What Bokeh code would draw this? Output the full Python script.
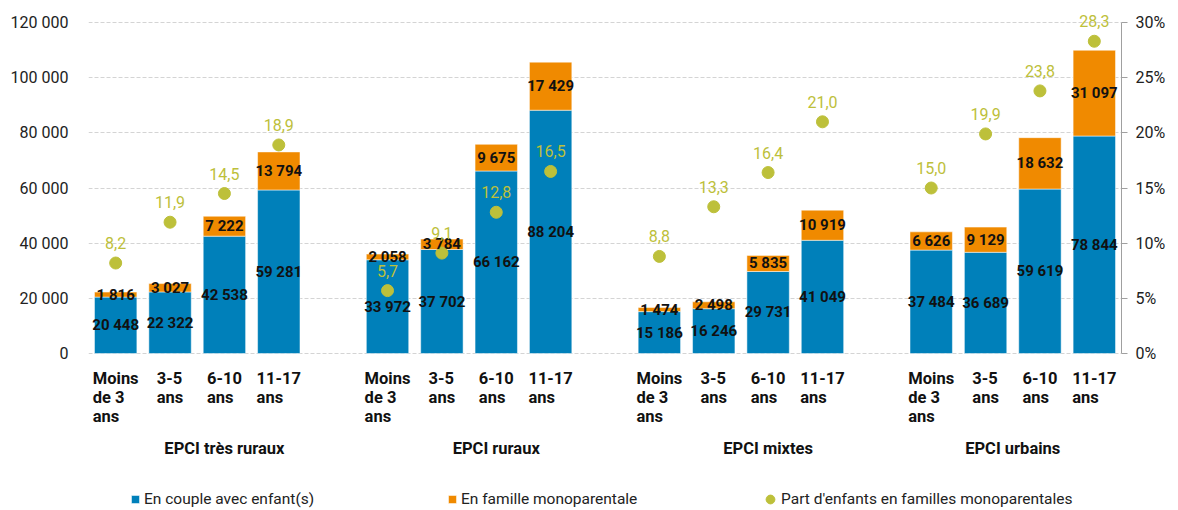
from bokeh.plotting import figure
from bokeh.models import (ColumnDataSource, FactorRange, Range1d, LinearAxis, FixedTicker,
                          LabelSet, Legend, LegendItem)
from bokeh.core.properties import value
from bokeh.embed import file_html
from bokeh.resources import INLINE

groups = ["EPCI très ruraux", "EPCI ruraux", "EPCI mixtes", "EPCI urbains"]
ages = ["Moins\nde 3\nans", "3-5\nans", "6-10\nans", "11-17\nans"]

couple = [20448, 22322, 42538, 59281,
          33972, 37702, 66162, 88204,
          15186, 16246, 29731, 41049,
          37484, 36689, 59619, 78844]
mono = [1816, 3027, 7222, 13794,
        2058, 3784, 9675, 17429,
        1474, 2498, 5835, 10919,
        6626, 9129, 18632, 31097]
part = [8.2, 11.9, 14.5, 18.9,
        5.7, 9.1, 12.8, 16.5,
        8.8, 13.3, 16.4, 21.0,
        15.0, 19.9, 23.8, 28.3]

left_ticks = [0, 20000, 40000, 60000, 80000, 100000, 120000]
left_labels = ["0", "20 000", "40 000", "60 000", "80 000", "100 000", "120 000"]
right_ticks = [0, 5, 10, 15, 20, 25, 30]
right_labels = ["0%", "5%", "10%", "15%", "20%", "25%", "30%"]

series_names = ["En couple avec enfant(s)", "En famille monoparentale",
                "Part d'enfants en familles monoparentales"]

BLUE = "#0080BA"
ORANGE = "#F08A00"
OLIVE = "#BDC03A"
FONT = "Roboto"

# layout (pixels)
W, H = 1178, 510
LEFT, RIGHT = 88, 57
TOP_Y = 22                        # pixel row of the top tick (120 000 / 30%)
ZERO_Y = 353                      # pixel row of the 0 line
span = ZERO_Y - TOP_Y
frac_below = (H - ZERO_Y) / span  # extra room below 0 for labels/legend
frac_above = TOP_Y / span         # extra room above the top tick for value labels
YMAX, PMAX = 120000, 30

# bar factors; each group except the last ends with an empty slot (as in the source chart)
bar_factors = [(g, a) for g in groups for a in ages]
all_factors = []
for i, g in enumerate(groups):
    all_factors += [(g, a) for a in ages]
    if i < len(groups) - 1:
        all_factors.append((g, " "))

def fmt(v):
    return f"{v:,}".replace(",", " ")

src = ColumnDataSource(dict(
    x=bar_factors,
    couple=couple,
    mono=mono,
    total=[c + m for c, m in zip(couple, mono)],
    couple_mid=[c / 2 for c in couple],
    mono_mid=[c + m / 2 for c, m in zip(couple, mono)],
    couple_lbl=[fmt(v) for v in couple],
    mono_lbl=[fmt(v) for v in mono],
    part=part,
    part_lbl=[f"{v:.1f}".replace(".", ",") for v in part],
    age_lbl=[a for g in groups for a in ages],
    zero=[0] * len(bar_factors),
))

xr = FactorRange(*all_factors, group_padding=0.0, factor_padding=0.0, range_padding=0.0)

p = figure(x_range=xr,
           y_range=Range1d(-YMAX * frac_below, YMAX * (1 + frac_above)),
           width=W, height=H,
           output_backend="svg", toolbar_location=None, x_axis_location=None,
           min_border_left=LEFT, min_border_right=RIGHT, min_border_top=0, min_border_bottom=0)
p.extra_y_ranges = {"pct": Range1d(-PMAX * frac_below, PMAX * (1 + frac_above))}
p.outline_line_color = None
p.background_fill_color = "white"
p.border_fill_color = "white"

# grid
p.xgrid.grid_line_color = None
p.ygrid.ticker = FixedTicker(ticks=left_ticks)
p.ygrid.grid_line_color = "#d4d4d4"
p.ygrid.grid_line_dash = "4 2"
p.ygrid.grid_line_width = 1

# left axis
ya = p.yaxis[0]
ya.ticker = FixedTicker(ticks=left_ticks)
ya.major_label_overrides = {t: l for t, l in zip(left_ticks, left_labels)}
ya.axis_line_color = None
ya.major_tick_line_color = None
ya.minor_tick_line_color = None
ya.major_label_text_font = FONT
ya.major_label_text_font_size = "16px"
ya.major_label_text_color = "#222222"
ya.major_label_standoff = 14

# right axis
ra = LinearAxis(y_range_name="pct", ticker=FixedTicker(ticks=right_ticks), bounds=(0, PMAX))
ra.major_label_overrides = {t: l for t, l in zip(right_ticks, right_labels)}
ra.axis_line_color = "#a0a0a0"
ra.major_tick_line_color = "#a0a0a0"
ra.major_tick_out = 6
ra.major_tick_in = 0
ra.minor_tick_line_color = None
ra.major_label_text_font = FONT
ra.major_label_text_font_size = "16px"
ra.major_label_text_color = "#222222"
ra.major_label_standoff = 8
p.add_layout(ra, "right")

# bars
r_couple = p.vbar(x="x", bottom=0, top="couple", width=0.78, source=src,
                  fill_color=BLUE, line_color="white", line_width=0.5)
r_mono = p.vbar(x="x", bottom="couple", top="total", width=0.78, source=src,
                fill_color=ORANGE, line_color="white", line_width=0.5)
r_part = p.scatter(x="x", y="part", y_range_name="pct", source=src, size=12,
                   marker="circle", fill_color=OLIVE, line_color=OLIVE)

# value labels
for ycol, tcol in (("couple_mid", "couple_lbl"), ("mono_mid", "mono_lbl")):
    p.add_layout(LabelSet(x="x", y=ycol, text=tcol, source=src,
                          text_align="center", text_baseline="middle",
                          text_font=value(FONT), text_font_size="15px",
                          text_font_style="bold", text_color="#111111"))
p.add_layout(LabelSet(x="x", y="part", y_range_name="pct", text="part_lbl", source=src,
                      y_offset=20, text_align="center", text_baseline="middle",
                      text_font=value(FONT), text_font_size="16px", text_color=OLIVE))

# category labels below the 0 line
p.add_layout(LabelSet(x="x", y="zero", text="age_lbl", source=src,
                      y_offset=-15, text_align="center", text_baseline="top",
                      text_font=value(FONT), text_font_size="16.5px", text_font_style="bold",
                      text_line_height=1.0, text_color="#111111"))
gsrc = ColumnDataSource(dict(x=groups, y=[0] * len(groups), t=groups))
p.add_layout(LabelSet(x="x", y="y", text="t", source=gsrc,
                      y_offset=-95, text_align="center", text_baseline="middle",
                      text_font=value(FONT), text_font_size="16.5px", text_font_style="bold",
                      text_color="#111111"))

# legend: one entry per Legend so each can be placed where the source has it
legend_specs = [(r_couple, 42, 2, 10), (r_mono, 359, 2, 10), (r_part, 671, 0, 22)]
for name, (rend, lx, ly, gsz) in zip(series_names, legend_specs):
    lg = Legend(items=[LegendItem(label=name, renderers=[rend])],
                location=(lx, ly), padding=0, margin=0, spacing=0,
                glyph_width=gsz, glyph_height=gsz, label_standoff=4 if gsz == 10 else 0,
                label_text_font=FONT, label_text_font_size="15.5px",
                label_text_color="#222222", border_line_color=None,
                background_fill_alpha=0)
    p.add_layout(lg, "center")

open("out.html", "w").write(file_html(p, INLINE))
